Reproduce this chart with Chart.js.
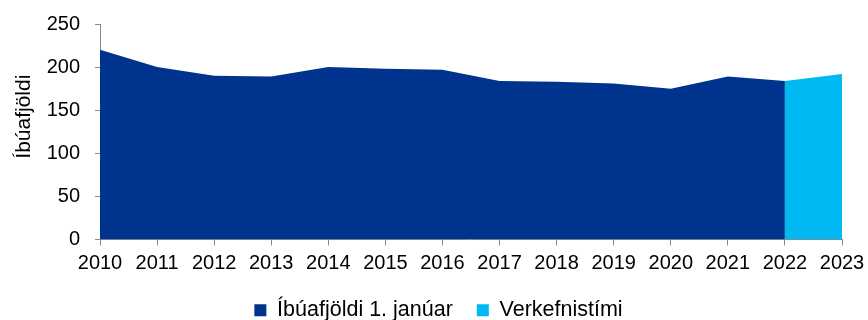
<!DOCTYPE html>
<html lang="is">
<head>
<meta charset="utf-8">
<title>Íbúafjöldi</title>
<script src="https://cdn.jsdelivr.net/npm/chart.js@4/dist/chart.umd.min.js"></script>
<style>
  html, body { margin: 0; padding: 0; background: #fff; }
  #wrap { width: 868px; height: 320px; }
</style>
</head>
<body>
<div id="wrap"><canvas id="popChart"></canvas></div>
<script>
// Years on the x axis
const years = ["2010", "2011", "2012", "2013", "2014", "2015", "2016",
  "2017", "2018", "2019", "2020", "2021", "2022", "2023"];

// Population on 1 January (actual)
const population = [220, 200, 190, 189, 200, 198, 197, 184, 183, 181, 175, 189, 184, null];

// Project period: starts at the last actual value
const projection = [null, null, null, null, null, null, null, null, null, null, null, null, 184, 192];

// Y axis range
const yMin = 0;
const yMax = 250;
const yStep = 50;

const yTitle = "Íbúafjöldi";

const COLORS = {
  DARK: "#00338d",
  LIGHT: "#00b9f2",
  AXIS: "#898989",
  TEXT: "#000000",
};

const FONT = "'Liberation Sans', Arial, sans-serif";

/**
 * Rotated y axis title, drawn a bit above the middle of the axis
 */
const sideTitle = {
  id: "sideTitle",
  afterDraw(chart, args, opts) {
    const { ctx, chartArea } = chart;
    const cy = chartArea.top + (chartArea.bottom - chartArea.top) * opts.at;
    ctx.save();
    ctx.translate(opts.x, cy);
    ctx.rotate(-Math.PI / 2);
    ctx.font = opts.size + "px " + FONT;
    ctx.fillStyle = COLORS.TEXT;
    ctx.textAlign = "center";
    ctx.textBaseline = "middle";
    ctx.fillText(opts.text, 0, 0);
    ctx.restore();
  },
};

function createAreaChart(canvasId) {
  const canvas = document.getElementById(canvasId);
  if (!canvas) return null;

  const ctx = canvas.getContext("2d");

  return new Chart(ctx, {
    type: "line",
    data: {
      labels: years,
      datasets: [
        {
          label: "Íbúafjöldi 1. janúar",
          data: population,
          backgroundColor: COLORS.DARK,
          borderColor: COLORS.DARK,
          borderWidth: 0,
          pointRadius: 0,
          fill: "origin",
          spanGaps: false,
        },
        {
          label: "Verkefnistími",
          data: projection,
          backgroundColor: COLORS.LIGHT,
          borderColor: COLORS.LIGHT,
          borderWidth: 0,
          pointRadius: 0,
          fill: "origin",
          spanGaps: false,
        },
      ],
    },
    plugins: [sideTitle],
    options: {
      responsive: true,
      maintainAspectRatio: false,
      animation: false,
      layout: {
        // legend sits lower than its own padding would allow
        padding: { left: 35, right: 26, top: 24, bottom: -11 },
      },
      plugins: {
        tooltip: { enabled: false },
        sideTitle: { text: yTitle, x: 24, at: 0.43, size: 21 },
        legend: {
          position: "bottom",
          labels: {
            boxWidth: 12,
            boxHeight: 12,
            padding: 24,
            color: COLORS.TEXT,
            font: { family: FONT, size: 21.5 },
          },
        },
      },
      scales: {
        x: {
          offset: false,
          grid: {
            drawOnChartArea: false,
            drawTicks: true,
            tickLength: 6,
            color: COLORS.AXIS,
          },
          border: { color: COLORS.AXIS, width: 1 },
          ticks: {
            color: COLORS.TEXT,
            font: { family: FONT, size: 20 },
            maxRotation: 0,
            autoSkip: false,
            padding: 6,
          },
          afterFit: function (scale) {
            scale.height = 36;
            scale.paddingLeft = 0;
            scale.paddingRight = 0;
          },
        },
        y: {
          min: yMin,
          max: yMax,
          grid: {
            drawOnChartArea: false,
            drawTicks: true,
            tickLength: 5,
            color: COLORS.AXIS,
          },
          border: { color: COLORS.AXIS, width: 1 },
          ticks: {
            stepSize: yStep,
            color: COLORS.TEXT,
            font: { family: FONT, size: 20 },
            padding: 15,
          },
          afterFit: function (scale) {
            scale.width = 65;
            scale.paddingTop = 0;
            scale.paddingBottom = 0;
          },
        },
      },
    },
  });
}

createAreaChart("popChart");
</script>
</body>
</html>
